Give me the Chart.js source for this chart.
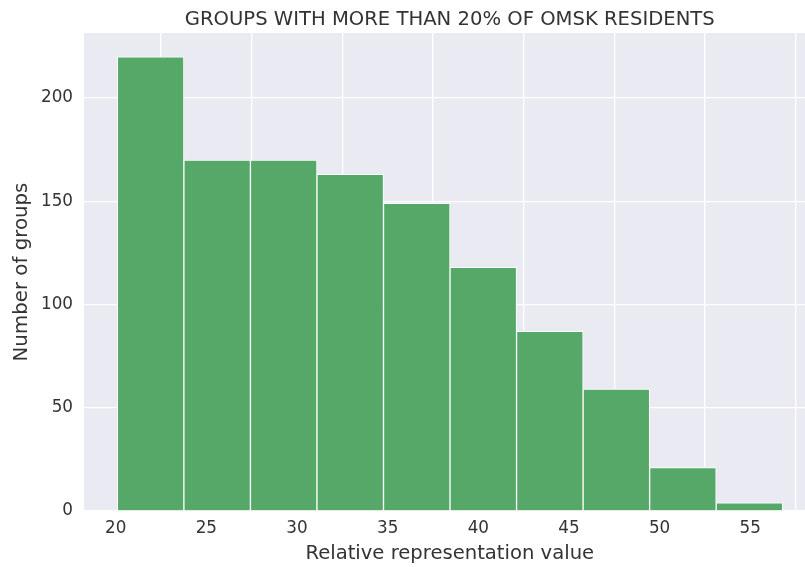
<!DOCTYPE html>
<html>
<head>
<meta charset="utf-8">
<script src="https://cdn.jsdelivr.net/npm/chart.js@4.4.1/dist/chart.umd.min.js"></script>
<style>
  html, body { margin: 0; padding: 0; background: #ffffff; }
  #wrap { width: 805px; height: 567px; }
</style>
</head>
<body>
<div id="wrap"><canvas id="histChart"></canvas></div>
<script>
// Histogram bin edges (relative representation value) and counts per bin
const binEdges = [20.09, 23.76, 27.43, 31.1, 34.77, 38.44, 42.11, 45.78, 49.45, 53.12, 56.79];
const binCounts = [220, 170, 170, 163, 149, 118, 87, 59, 21, 4];

// Tick labels for both axes
const xTicks = [20, 25, 30, 35, 40, 45, 50, 55];
const yTicks = [0, 50, 100, 150, 200];

const chartTitle = 'GROUPS WITH MORE THAN 20% OF OMSK RESIDENTS';
const xLabel = 'Relative representation value';
const yLabel = 'Number of groups';

const textColor = '#333333';
const fontFamily = '"DejaVu Sans", sans-serif';

// The original axes run a bit past the right edge of the picture (x up to 58.6),
// so titles are centred on the full axes, not on the visible part.
const xFullMax = 58.6;

// Bars are placed at bin centres on a linear x-axis
const points = binCounts.map((count, i) => ({
    x: (binEdges[i] + binEdges[i + 1]) / 2,
    y: count
}));

// Paint the seaborn-like grey plot background
const plotBackground = {
    id: 'plotBackground',
    beforeDraw(chart) {
        const { ctx, chartArea } = chart;
        ctx.save();
        ctx.fillStyle = '#eaeaf2';
        ctx.fillRect(chartArea.left, chartArea.top, chartArea.right - chartArea.left, chartArea.bottom - chartArea.top);
        ctx.restore();
    }
};

// Title and x-axis label, centred over the whole axes
const centredTitles = {
    id: 'centredTitles',
    afterDraw(chart) {
        const { ctx, chartArea, scales } = chart;
        const centre = (chartArea.left + scales.x.getPixelForValue(xFullMax)) / 2;
        ctx.save();
        ctx.fillStyle = textColor;
        ctx.textAlign = 'center';
        ctx.textBaseline = 'middle';
        ctx.font = '19.6px ' + fontFamily;
        ctx.fillText(chartTitle, centre, 20);
        ctx.fillText(xLabel, centre, 554);
        ctx.restore();
    }
};

const ctx = document.getElementById('histChart').getContext('2d');
new Chart(ctx, {
    type: 'bar',
    data: {
        datasets: [{
            data: points,
            backgroundColor: '#55a868',
            borderColor: '#ffffff',
            borderWidth: 1,
            barPercentage: 1,
            categoryPercentage: 1,
            grouped: false
        }]
    },
    options: {
        responsive: true,
        maintainAspectRatio: false,
        animation: false,
        layout: { padding: { left: 0, right: 0, top: 33, bottom: 0 } },
        scales: {
            x: {
                type: 'linear',
                min: 18.25,
                max: 58.02,
                offset: false,
                afterBuildTicks: (scale) => { scale.ticks = xTicks.map(v => ({ value: v })); },
                afterFit: (scale) => { scale.height = 56; },
                grid: { color: '#ffffff', lineWidth: 1.3, drawTicks: false },
                border: { display: false },
                ticks: {
                    color: textColor,
                    font: { family: fontFamily, size: 16.8 },
                    padding: 8,
                    maxRotation: 0,
                    autoSkip: false
                }
            },
            y: {
                type: 'linear',
                min: 0,
                max: 231.5,
                afterBuildTicks: (scale) => { scale.ticks = yTicks.map(v => ({ value: v })); },
                afterFit: (scale) => { scale.width = 84; },
                grid: { color: '#ffffff', lineWidth: 1.3, drawTicks: false },
                border: { display: false },
                ticks: {
                    color: textColor,
                    font: { family: fontFamily, size: 16.8 },
                    padding: 11
                },
                title: {
                    display: true,
                    text: yLabel,
                    color: textColor,
                    font: { family: fontFamily, size: 19.8 },
                    padding: { top: 9.5, bottom: 0 }
                }
            }
        },
        plugins: {
            legend: { display: false },
            tooltip: { enabled: false },
            title: { display: false }
        }
    },
    plugins: [plotBackground, centredTitles]
});
</script>
</body>
</html>
